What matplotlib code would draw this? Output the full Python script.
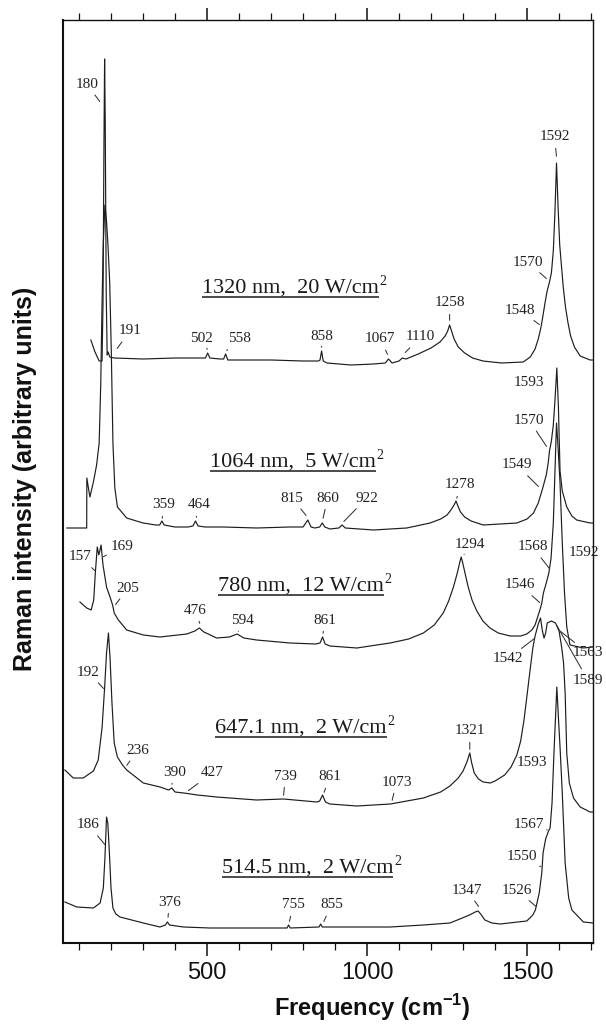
import matplotlib
matplotlib.use("Agg")
import matplotlib.pyplot as plt
from matplotlib.ticker import FixedLocator, MultipleLocator

plt.rcParams['font.family'] = ['Liberation Sans', 'DejaVu Sans']
plt.rcParams['mathtext.fontset'] = 'custom'
plt.rcParams['mathtext.rm'] = 'Liberation Serif'
plt.rcParams['mathtext.bf'] = 'Liberation Sans:bold'

# ---- Raman spectra (frequency in cm^-1, intensity in arbitrary units, stacked) ----
freq_1320 = [137, 150, 163, 172, 175, 178, 180, 182, 185, 188, 191, 196, 210, 300, 400, 480, 495, 502,
             509, 540, 552, 558, 565, 600, 700, 800, 848, 853, 858, 863, 875, 950, 1020, 1057, 1067, 1078,
             1100, 1110, 1122, 1160, 1200, 1228, 1244, 1252, 1258, 1264, 1272, 1285, 1305, 1330, 1362,
             1420, 1488, 1510, 1525, 1535, 1543, 1548, 1555, 1562, 1570, 1576, 1582, 1587, 1592, 1597,
             1602, 1608, 1613, 1620, 1628, 1636, 1648, 1666, 1697, 1706]
int_1320 = [603, 591, 582, 582, 640, 800, 884, 820, 650, 588, 591, 586, 585, 584, 585, 585, 585, 590,
            585, 584, 584, 589, 583, 583, 583, 582, 582, 583, 592, 582, 580, 578, 579, 580, 584, 580,
            582, 585, 584, 589, 595, 601, 607, 612, 618, 612, 604, 596, 590, 585, 582,
            580, 581, 586, 594, 604, 615, 624, 638, 651, 661, 670, 692, 730, 780, 735,
            698, 675, 656, 636, 620, 607, 596, 587, 583, 583]

freq_1064 = [62, 124, 124.5, 134, 145, 155, 163, 168, 172, 176, 181, 186, 191, 196, 201, 206, 212, 220,
             249, 300, 340, 352, 359, 366, 400, 440, 456, 464, 472, 494, 551, 655, 759, 800, 815, 825,
             837, 852, 860, 868, 884, 912, 922, 932, 1020, 1124, 1197, 1230, 1250, 1262, 1272, 1278,
             1284, 1292, 1305, 1325, 1363, 1468, 1500, 1520, 1535, 1549, 1560, 1566, 1570, 1576, 1582,
             1587, 1593, 1598, 1603, 1610, 1624, 1640, 1655, 1697, 1706]
int_1064 = [415, 415, 465, 446, 461, 478, 500, 560, 640, 700, 738, 722, 695, 660, 590, 500, 455, 436,
            425, 420, 418, 418, 422, 418, 416, 416, 417, 422, 417, 416, 416, 415, 416, 416, 423, 416,
            415, 416, 420, 416, 414, 415, 418, 415, 413, 415, 420, 424, 428, 433, 438, 442,
            437, 431, 426, 422, 418, 420, 424, 430, 440, 455, 468, 480, 492, 502, 518,
            542, 575, 535, 472, 452, 436, 427, 423, 420, 420]

freq_780 = [103, 124, 138, 146, 151, 157, 162, 169, 175, 186, 198, 205, 210, 223, 249, 301, 353, 437,
            462, 476, 490, 504, 530, 570, 594, 615, 655, 759, 840, 853, 861, 869, 884, 968, 1072, 1130,
            1176, 1210, 1238, 1255, 1270, 1282, 1290, 1294, 1299, 1306, 1316, 1328, 1343, 1362, 1384,
            1410, 1447, 1480, 1499, 1515, 1525, 1535, 1541, 1546, 1551, 1560, 1568, 1575, 1582, 1587,
            1592, 1597, 1603, 1610, 1617, 1624, 1634, 1676, 1706]
int_780 = [341, 335, 333, 343, 370, 396, 388, 398, 378, 356, 345, 338, 330, 323, 313, 308, 306, 309,
           312, 315, 311, 309, 305, 306, 309, 305, 303, 300, 299, 300, 306, 299, 297, 295, 300, 304,
           310, 318, 330, 342, 356, 370, 381, 386, 380, 370, 356, 343, 332, 322, 315,
           310, 307, 307, 309, 313, 318, 328, 334, 340, 350, 360, 370, 385, 420, 470,
           520, 495, 460, 400, 350, 316, 298, 295, 296]

freq_647 = [56, 82, 113, 145, 160, 172, 180, 186, 192, 197, 203, 210, 220, 236, 249, 301, 353, 380, 390,
            400, 427, 470, 530, 655, 739, 843, 852, 861, 870, 884, 968, 1073, 1176, 1230, 1259, 1285,
            1300, 1312, 1321, 1327, 1335, 1348, 1363, 1385, 1400, 1430, 1450, 1468, 1480, 1490, 1500,
            1509, 1518, 1525, 1535, 1542, 1548, 1553, 1558, 1563, 1576, 1589, 1600, 1608, 1614, 1619,
            1624, 1632, 1645, 1666, 1697, 1706]
int_647 = [173, 165, 165, 172, 183, 215, 255, 290, 310, 285, 240, 200, 186, 178, 173, 160, 156, 153, 155,
           151, 150, 148, 146, 143, 144, 141, 142, 148, 141, 139, 137, 139, 145, 151, 157, 165,
           172, 181, 190, 180, 170, 164, 161, 160, 162, 168, 176, 188, 202, 222, 248,
           272, 295, 307, 319, 325, 312, 305, 310, 320, 322, 320, 312, 296, 280, 250,
           190, 160, 145, 136, 131, 131]

freq_514 = [56, 93, 145, 166, 176, 181, 186, 190, 195, 200, 206, 215, 228, 301, 353, 370, 376, 383, 426,
            509, 750, 755, 760, 850, 855, 860, 1072, 1176, 1259, 1290, 1320, 1338, 1347, 1355, 1368,
            1390, 1416, 1499, 1518, 1526, 1538, 1546, 1550, 1558, 1567, 1572, 1578, 1584, 1593, 1598,
            1603, 1610, 1619, 1630, 1640, 1676, 1706]
int_514 = [41, 36, 35, 40, 55, 85, 126, 120, 90, 55, 35, 29, 26, 20, 16, 18, 21, 18, 16,
           15, 15, 18, 15, 16, 19, 16, 16, 18, 20, 24, 28, 31, 32, 29, 23,
           20, 19, 22, 28, 33, 50, 70, 90, 104, 112, 115, 140, 190, 256, 225,
           196, 150, 80, 45, 33, 21, 20]

# ---- peak assignments (cm^-1) for each spectrum ----
peaks_1320 = [180, 191, 502, 558, 858, 1067, 1110, 1258, 1548, 1570, 1592]
peaks_1064 = [359, 464, 815, 860, 922, 1278, 1549, 1570, 1593]
peaks_780 = [157, 169, 205, 476, 594, 861, 1294, 1546, 1568, 1592]
peaks_647 = [192, 236, 390, 427, 739, 861, 1073, 1321, 1542, 1563, 1589]
peaks_514 = [186, 376, 755, 855, 1347, 1526, 1550, 1567, 1593]

conditions = [("1320 nm,  20 W/cm", "2"), ("1064 nm,  5 W/cm", "2"), ("780 nm,  12 W/cm", "2"),
              ("647.1 nm,  2 W/cm", "2"), ("514.5 nm,  2 W/cm", "2")]

# ---- annotation layout: label centre and end of its leader line ----
layout_1320 = [((124, 859), (166, 841)), ((259, 612), (218, 594)), ((483, 604), (502, 593)),
               ((600, 604), (560, 592)), ((858, 606), (858, 595)), ((1041, 604), (1065, 588)),
               ((1166, 606), (1118, 590)), ((1258, 640), (1258, 622)), ((1478, 633), (1540, 618)),
               ((1502, 681), (1562, 664)), ((1586, 806), (1592, 786))]
layout_1064 = [((363, 438), (360, 424)), ((477, 438), (466, 425)), ((765, 445), (811, 427)),
               ((877, 445), (862, 424)), ((999, 445), (926, 421)), ((1290, 458), (1280, 444)),
               ((1468, 478), (1537, 456)), ((1506, 523), (1562, 496)), ((1506, 560), None)]
layout_780 = [((103, 386), (151, 372)), ((236, 396), (174, 386)), ((254, 355), (213, 338)),
              ((462, 333), (478, 319)), ((611, 323), (597, 311)), ((869, 323), (862, 309)),
              ((1322, 398), (1302, 388)), ((1478, 358), (1541, 340)), ((1517, 396), (1571, 374)),
              ((1678, 391), None)]
layout_647 = [((129, 271), (178, 254)), ((283, 193), (248, 177)), ((400, 171), (390, 158)),
              ((517, 170), (440, 152)), ((745, 167), (739, 147)), ((883, 166), (865, 150)),
              ((1092, 161), (1078, 142)), ((1321, 212), (1321, 193)), ((1440, 284), (1525, 305)),
              ((1690, 290), (1603, 312)), ((1690, 263), (1592, 318))]
layout_514 = [((130, 118), (182, 98)), ((382, 41), (378, 25)), ((770, 38), (757, 21)),
              ((889, 38), (864, 21)), ((1311, 53), (1350, 36)), ((1467, 53), (1530, 36)),
              ((1483, 86), (1545, 76)), ((1505, 118), (1565, 113)), ((1515, 180), None)]

cond_pos = [(484, 650), (509, 476), (535, 352), (525, 210), (546, 70)]

spectra = [(freq_1320, int_1320, peaks_1320, layout_1320),
           (freq_1064, int_1064, peaks_1064, layout_1064),
           (freq_780, int_780, peaks_780, layout_780),
           (freq_647, int_647, peaks_647, layout_647),
           (freq_514, int_514, peaks_514, layout_514)]

W, H = 606, 1025
fig = plt.figure(figsize=(W / 100, H / 100), dpi=100)
ax = fig.add_axes([63 / W, 82 / H, 530 / W, 923 / H])

line_col = '#1d1d1d'
serif = 'Liberation Serif'

for f, y, peaks, layout in spectra:
    ax.plot(f, y, color=line_col, lw=0.85, solid_joinstyle='round')
    for val, (tpos, end) in zip(peaks, layout):
        if end is None:
            ax.text(tpos[0], tpos[1], str(val), ha='center', va='center', fontsize=11,
                    family=serif, color='#222222', clip_on=False)
        else:
            ax.annotate(str(val), xy=end, xytext=tpos, ha='center', va='center', fontsize=11,
                        family=serif, color='#222222', annotation_clip=False,
                        arrowprops=dict(arrowstyle='-', lw=0.75, color='#333333',
                                        shrinkA=1.5, shrinkB=0.5))

ax.set_xlim(50, 1706)
ax.set_ylim(0, 923)
ax.set_yticks([])
ax.xaxis.set_major_locator(FixedLocator([500, 1000, 1500]))
ax.xaxis.set_minor_locator(MultipleLocator(100))
ax.tick_params(axis='x', which='both', direction='out', top=True, labeltop=False,
               labelsize=17, colors='#111111')
ax.tick_params(axis='x', which='major', length=9, width=1.1, pad=5)
ax.tick_params(axis='x', which='minor', length=5, width=0.9)
for lab in ax.get_xticklabels():
    lab.set_family('Liberation Sans')
for side, lw in (('left', 1.5), ('bottom', 1.5), ('top', 1.0), ('right', 1.0)):
    ax.spines[side].set_linewidth(lw)
    ax.spines[side].set_color('#111111')

# excitation conditions, underlined
fig.canvas.draw()
renderer = fig.canvas.get_renderer()
inv = ax.transData.inverted()
for (main, sup), (x, y) in zip(conditions, cond_pos):
    t = ax.text(x, y, main, ha='left', va='baseline', fontsize=16, family=serif, color='#1a1a1a')
    bb = t.get_window_extent(renderer)
    x0 = inv.transform((bb.x0, 0))[0]
    x1 = inv.transform((bb.x1, 0))[0]
    ax.text(x1 + 2, y + 8, sup, ha='left', va='baseline', fontsize=10, family=serif, color='#1a1a1a')
    ax.plot([x0, x1], [y - 4, y - 4], color='#1a1a1a', lw=1.1, solid_capstyle='butt')

fig.text(372.6 / W, 1 - 1016 / H, r'Frequency (cm$^{\mathbf{-1}}$)', ha='center', va='baseline',
         fontsize=17, fontweight='bold', color='#111111')
fig.text(25 / W, 1 - 479 / H, 'Raman intensity (arbitrary units)', rotation=90, ha='center',
         va='center', fontsize=18, fontweight='bold', color='#111111')

fig.savefig('out.png', dpi=100)
